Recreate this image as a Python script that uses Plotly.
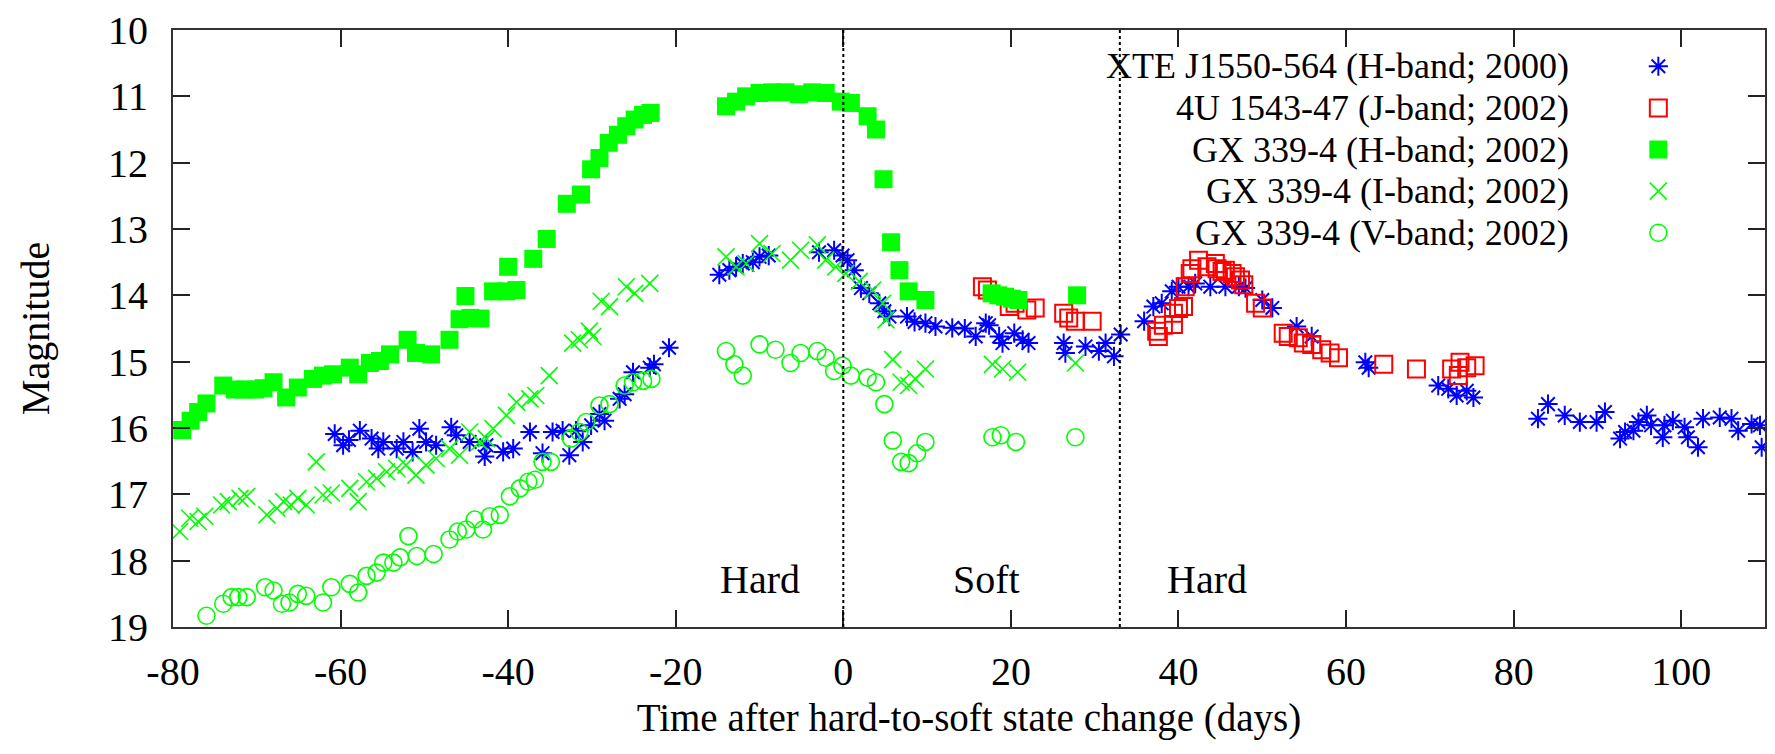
import plotly.graph_objects as go

FONT = "Liberation Serif, Times New Roman, serif"

# XTE J1550-564, H band (2000 outburst)
xte_t = [-60.7, -59.7, -59.0, -57.7, -56.3, -55.5, -54.9, -53.3, -52.5, -51.4, -50.6, -49.8,
         -48.6, -46.8, -46.2, -44.6, -42.8, -42.6, -40.6, -39.4, -37.4, -35.9, -34.7, -33.5,
         -32.7, -31.9, -31.1, -30.1, -29.1, -28.5, -26.7, -26.1, -25.1, -23.1, -22.6, -20.8,
         -14.8, -13.6, -12.8, -12.0, -10.8, -10.0, -8.9, -2.9, -1.1, -0.1, 0.5, 1.3, 2.1, 3.1,
         4.3, 4.9, 5.5, 7.6, 8.5, 9.8, 11.0, 13.0, 14.5, 15.8, 17.0, 17.4, 18.6, 19.0, 20.4,
         21.4, 22.1, 26.3, 26.5, 28.9, 30.5, 31.3, 32.3, 33.1, 35.9, 37.0, 38.0, 39.2, 40.0,
         41.2, 42.0, 43.8, 45.6, 47.2, 48.0, 50.0, 51.2, 54.1, 55.9, 62.3, 62.7, 71.0, 72.2,
         73.2, 74.4, 75.2, 82.9, 84.1, 86.1, 87.9, 89.9, 90.9, 92.7, 93.3, 94.3, 94.9, 95.9,
         96.4, 97.8, 98.0, 99.0, 100.4, 100.8, 102.0, 102.6, 104.6, 106.0, 106.8, 108.4,
         109.4, 109.6]
xte_m = [16.09, 16.26, 16.18, 16.04, 16.16, 16.31, 16.21, 16.31, 16.21, 16.36, 16.01, 16.21,
         16.26, 15.99, 16.11, 16.21, 16.43, 16.26, 16.36, 16.31, 16.06, 16.38, 16.06, 16.04,
         16.41, 16.04, 16.21, 15.96, 15.79, 15.89, 15.56, 15.49, 15.16, 15.09, 15.04, 14.79,
         13.69, 13.62, 13.57, 13.52, 13.50, 13.42, 13.40, 13.35, 13.32, 13.40, 13.47, 13.62,
         13.89, 13.97, 14.12, 14.24, 14.32, 14.32, 14.40, 14.42, 14.47, 14.49, 14.50, 14.62,
         14.42, 14.45, 14.62, 14.72, 14.57, 14.67, 14.72, 14.72, 14.87, 14.77, 14.84, 14.72,
         14.92, 14.59, 14.39, 14.17, 14.12, 13.94, 13.87, 13.87, 13.82, 13.87, 13.87, 13.87,
         13.89, 14.07, 14.19, 14.47, 14.62, 15.01, 15.09, 15.36, 15.41, 15.51, 15.44, 15.54,
         15.86, 15.64, 15.81, 15.91, 15.91, 15.76, 16.16, 16.06, 16.04, 15.91, 15.81, 15.96,
         16.14, 15.96, 15.89, 15.99, 16.14, 16.29, 15.86, 15.84, 15.86, 16.04, 15.94, 15.96,
         16.29]

# 4U 1543-47, J band (2002 outburst)
u4_t = [16.6, 17.2, 19.8, 20.5, 21.9, 22.9, 26.3, 26.9, 27.7, 29.7, 37.4, 37.6, 38.2, 39.4,
        39.4, 40.0, 40.6, 40.8, 41.4, 41.6, 42.4, 43.4, 44.4, 44.6, 45.2, 45.6, 46.4, 46.8,
        47.4, 47.8, 49.2, 50.0, 52.5, 53.1, 54.3, 54.9, 55.9, 57.1, 58.1, 59.1, 64.5, 68.4,
        72.6, 73.4, 73.6, 74.4, 75.4]
u4_m = [13.87, 13.92, 14.17, 14.12, 14.22, 14.19, 14.27, 14.34, 14.39, 14.39, 14.54, 14.62,
        14.45, 14.44, 14.27, 14.20, 14.17, 13.87, 13.67, 13.60, 13.47, 13.57, 13.52, 13.60,
        13.64, 13.62, 13.67, 13.72, 13.77, 13.84, 14.12, 14.19, 14.57, 14.62, 14.64, 14.72,
        14.74, 14.82, 14.87, 14.94, 15.04, 15.11, 15.11, 15.21, 15.01, 15.09, 15.06]

# GX 339-4, H band (2002)
gxh_t = [-78.9, -77.9, -77.0, -76.0, -74.0, -72.6, -71.4, -70.2, -69.2, -68.0, -66.5, -65.1,
         -63.3, -62.1, -60.9, -58.9, -57.9, -56.5, -55.3, -54.1, -52.0, -51.0, -49.2, -47.0,
         -45.8, -45.1, -44.5, -43.3, -41.8, -40.2, -40.0, -39.0, -37.0, -35.4, -33.0, -31.3,
         -30.1, -29.1, -28.0, -26.9, -25.9, -24.9, -23.9, -23.0, -14.0, -12.8, -11.6, -10.0,
         -8.5, -6.9, -5.3, -3.7, -2.1, -0.3, 0.9, 2.9, 3.9, 4.8, 5.7, 6.7, 7.8, 9.8, 17.7,
         18.5, 19.3, 20.1, 20.9, 27.9]
gxh_m = [16.03, 15.89, 15.76, 15.63, 15.36, 15.42, 15.42, 15.42, 15.40, 15.31, 15.54, 15.39,
         15.26, 15.21, 15.19, 15.09, 15.19, 15.02, 14.99, 14.89, 14.67, 14.87, 14.89, 14.67,
         14.36, 14.01, 14.34, 14.35, 13.94, 13.94, 13.57, 13.92, 13.45, 13.15, 12.62, 12.48,
         12.10, 11.93, 11.70, 11.58, 11.45, 11.35, 11.28, 11.25, 11.15, 11.08, 11.00, 10.95,
         10.94, 10.94, 10.97, 10.94, 10.95, 11.08, 11.10, 11.30, 11.50, 12.25, 13.20, 13.62,
         13.94, 14.07, 13.97, 14.00, 14.02, 14.05, 14.07, 14.00]

# GX 339-4, I band (2002)
gxi_t = [-79.2, -78.0, -77.0, -76.2, -74.2, -73.4, -72.0, -71.2, -68.8, -67.6, -66.8, -65.9,
         -65.1, -64.1, -62.9, -62.1, -61.1, -58.9, -57.9, -56.9, -55.7, -54.5, -53.3, -52.2,
         -51.0, -49.8, -48.6, -47.0, -45.8, -44.6, -43.4, -42.6, -41.8, -40.2, -39.0, -37.4,
         -36.7, -35.1, -32.3, -31.5, -30.3, -29.9, -28.9, -27.9, -25.9, -24.9, -23.1, -14.0,
         -12.8, -11.6, -10.0, -8.5, -6.3, -5.1, -3.1, -2.1, -0.9, 0.3, 1.9, 3.5, 4.7, 5.1,
         5.9, 6.9, 7.8, 8.6, 9.8, 17.8, 19.0, 20.8, 27.7]
gxi_m = [17.56, 17.36, 17.41, 17.33, 17.16, 17.11, 17.06, 17.03, 17.31, 17.21, 17.11, 17.16,
         17.06, 17.16, 16.51, 17.01, 16.98, 16.91, 17.11, 16.81, 16.76, 16.66, 16.61, 16.56,
         16.71, 16.56, 16.46, 16.31, 16.41, 16.06, 16.21, 16.16, 16.01, 15.81, 15.61, 15.56,
         15.51, 15.21, 14.72, 14.67, 14.54, 14.62, 14.09, 14.17, 13.87, 13.97, 13.82, 13.42,
         13.57, 13.52, 13.22, 13.37, 13.47, 13.32, 13.24, 13.47, 13.57, 13.67, 13.79, 13.92,
         14.12, 14.37, 14.97, 15.31, 15.36, 15.26, 15.11, 15.04, 15.11, 15.16, 15.02]

# GX 339-4, V band (2002)
gxv_t = [-76.0, -74.0, -73.0, -72.2, -71.2, -69.0, -68.0, -67.0, -66.1, -65.1, -64.1, -62.1,
         -61.1, -58.9, -57.9, -56.9, -55.7, -54.9, -53.7, -52.9, -51.9, -50.9, -48.9, -47.0,
         -46.0, -45.0, -44.0, -43.0, -42.2, -41.0, -39.8, -38.6, -37.6, -36.8, -35.9, -34.9,
         -32.5, -31.5, -30.7, -29.1, -27.9, -26.1, -25.1, -23.9, -22.9, -14.0, -13.0, -12.0,
         -10.0, -8.1, -6.3, -5.1, -3.1, -2.1, -1.1, -0.1, 0.9, 2.9, 3.9, 4.9, 5.9, 6.9, 7.8,
         8.8, 9.8, 17.8, 18.8, 20.6, 27.7]
gxv_m = [18.83, 18.65, 18.55, 18.55, 18.55, 18.40, 18.45, 18.65, 18.63, 18.50, 18.53, 18.63,
         18.40, 18.35, 18.48, 18.23, 18.18, 18.03, 18.03, 17.95, 17.63, 17.93, 17.90, 17.68,
         17.56, 17.53, 17.38, 17.53, 17.33, 17.31, 17.03, 16.91, 16.81, 16.78, 16.51, 16.51,
         16.16, 16.06, 15.91, 15.66, 15.64, 15.36, 15.31, 15.29, 15.26, 14.84, 15.04, 15.21,
         14.74, 14.82, 15.02, 14.87, 14.84, 14.94, 15.14, 15.06, 15.21, 15.24, 15.31, 15.64,
         16.19, 16.51, 16.53, 16.38, 16.21, 16.14, 16.11, 16.21, 16.14]

# State transitions (days) and state labels
state_changes = [0, 33]
state_labels = ["Hard", "Soft", "Hard"]
state_label_t = [-10.0, 17.1, 43.4]
state_label_m = 18.28

x_ticks = [-80, -60, -40, -20, 0, 20, 40, 60, 80, 100]
y_ticks = [10, 11, 12, 13, 14, 15, 16, 17, 18, 19]

BLUE, RED, GREEN = "#0000ff", "#ff0000", "#00ff00"
series = [
    ("XTE J1550-564 (H-band; 2000)", xte_t, xte_m,
     dict(symbol="asterisk-open", size=16, color=BLUE, line=dict(color=BLUE, width=2))),
    ("4U 1543-47 (J-band; 2002)", u4_t, u4_m,
     dict(symbol="square-open", size=17, color=RED, line=dict(color=RED, width=2))),
    ("GX 339-4 (H-band; 2002)", gxh_t, gxh_m,
     dict(symbol="square", size=18, color=GREEN, line=dict(width=0))),
    ("GX 339-4 (I-band; 2002)", gxi_t, gxi_m,
     dict(symbol="x-thin-open", size=17, color=GREEN, line=dict(color=GREEN, width=1.6))),
    ("GX 339-4 (V-band; 2002)", gxv_t, gxv_m,
     dict(symbol="circle-open", size=17, color=GREEN, line=dict(color=GREEN, width=1.6))),
]

fig = go.Figure()
for name, t, m, mk in series:
    fig.add_trace(go.Scatter(x=t, y=m, mode="markers", marker=mk, name=name,
                             showlegend=False, hoverinfo="skip"))

# Key: text on the left, sample symbol on the right
key_rows = [0.9393, 0.8695, 0.7998, 0.7301, 0.6604]
for (name, _, _, mk), ky in zip(series, key_rows):
    fig.add_trace(go.Scatter(x=[0.933], y=[ky], xaxis="x2", yaxis="y2", mode="markers",
                             marker=mk, showlegend=False, hoverinfo="skip"))
    fig.add_annotation(x=0.878, y=ky, xref="paper", yref="paper", text=name,
                       showarrow=False, xanchor="right", yanchor="middle",
                       font=dict(family=FONT, size=36, color="black"))

for tc in state_changes:
    fig.add_shape(type="line", x0=tc, x1=tc, y0=10, y1=19, xref="x", yref="y",
                  line=dict(color="black", width=2, dash="dot"), layer="above")

for lab, lt in zip(state_labels, state_label_t):
    fig.add_annotation(x=lt, y=state_label_m, xref="x", yref="y", text=lab, showarrow=False,
                       xanchor="center", yanchor="middle",
                       font=dict(family=FONT, size=40, color="black"))

axis_common = dict(showline=True, linewidth=2, linecolor="#333333", mirror="ticks",
                   ticks="inside", ticklen=17, tickwidth=1.5, tickcolor="#222222",
                   showgrid=False, zeroline=False,
                   tickfont=dict(family=FONT, size=40, color="black"))

fig.update_layout(
    width=1775, height=754,
    margin=dict(l=173, r=8, t=24, b=127, pad=0),
    paper_bgcolor="white", plot_bgcolor="white",
    font=dict(family=FONT, size=40, color="black"),
    xaxis=dict(range=[-80, 110], tickvals=x_ticks, ticktext=[str(v) for v in x_ticks],
               ticklabelstandoff=8,
               title=dict(text="Time after hard-to-soft state change (days)",
                          font=dict(family=FONT, size=39, color="black"), standoff=11),
               **axis_common),
    yaxis=dict(range=[19, 10], tickvals=y_ticks, ticktext=[str(v) for v in y_ticks],
               ticklabelstandoff=15,
               title=dict(text="Magnitude", font=dict(family=FONT, size=40, color="black"),
                          standoff=46),
               **axis_common),
    xaxis2=dict(overlaying="x", range=[0, 1], visible=False),
    yaxis2=dict(overlaying="y", range=[0, 1], visible=False),
)

fig.write_html("out.html")
